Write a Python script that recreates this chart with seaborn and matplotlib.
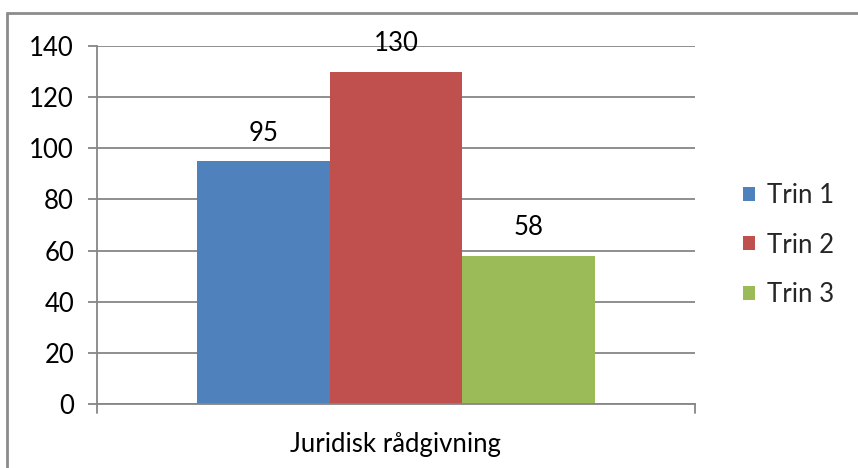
import matplotlib
matplotlib.use("Agg")
import matplotlib.pyplot as plt
import seaborn as sns
import pandas as pd
from matplotlib.lines import Line2D
from matplotlib.patches import Patch

# data
category = ["Juridisk rådgivning"]
series = ["Trin 1", "Trin 2", "Trin 3"]
values = [95, 130, 58]
colors = ["#4F81BD", "#C0504D", "#9BBB59"]
y_ticks = [0, 20, 40, 60, 80, 100, 120, 140]

df = pd.DataFrame({
    "kategori": category * len(series),
    "trin": series,
    "antal": values,
})

sns.set_theme(style="white")
plt.rcParams["font.family"] = ["Lato", "DejaVu Sans"]
FS = 18.5

fig = plt.figure(figsize=(8.58, 4.68), dpi=100)
ax = fig.add_axes([97 / 858, 1 - 404 / 468, (695 - 97) / 858, (404 - 46) / 468])

sns.barplot(data=df, x="kategori", y="antal", hue="trin", palette=colors,
            width=0.664, saturation=1, ax=ax, legend=False, linewidth=0)

ax.set_xlim(-0.5, 0.5)
ax.set_ylim(0, 140)
ax.set_yticks(y_ticks)
ax.yaxis.grid(True, color="#868686", linewidth=1.3)
ax.set_axisbelow(True)
ax.set_xlabel("")
ax.set_ylabel("")

for side in ["top", "right"]:
    ax.spines[side].set_visible(False)
for side in ["left", "bottom"]:
    ax.spines[side].set_color("#868686")
    ax.spines[side].set_linewidth(1.3)

ax.tick_params(axis="y", length=6.5, width=1.3, color="#868686", labelsize=FS,
               labelcolor="#000000", pad=10, left=True)
ax.set_xticks([0])
ax.set_xticklabels(category)
ax.tick_params(axis="x", length=0, labelsize=FS, labelcolor="#000000", pad=20)
# category boundary ticks
for xb in [-0.5, 0.5]:
    ax.plot([xb, xb], [0, -3.5], color="#868686", linewidth=1.3, clip_on=False)

for cont in ax.containers:
    ax.bar_label(cont, fmt="%d", padding=11, fontsize=FS, color="#000000")

handles = [Patch(facecolor=c, edgecolor="none") for c in colors]
leg = fig.legend(handles, series, loc="center left", bbox_to_anchor=(743 / 858, 1 - 245 / 468),
                 frameon=False, fontsize=FS, handlelength=0.47, handleheight=0.47,
                 handletextpad=0.45, labelspacing=0.95, borderaxespad=0, borderpad=0)

# outer chart frame (top and left edges visible)
fig.add_artist(Line2D([7 / 858, 7 / 858], [0, 1 - 13 / 468], transform=fig.transFigure,
                      color="#8c8c8c", linewidth=2))
fig.add_artist(Line2D([7 / 858, 1], [1 - 13 / 468, 1 - 13 / 468], transform=fig.transFigure,
                      color="#8c8c8c", linewidth=2))

fig.savefig("out.png", dpi=100, facecolor="white")
